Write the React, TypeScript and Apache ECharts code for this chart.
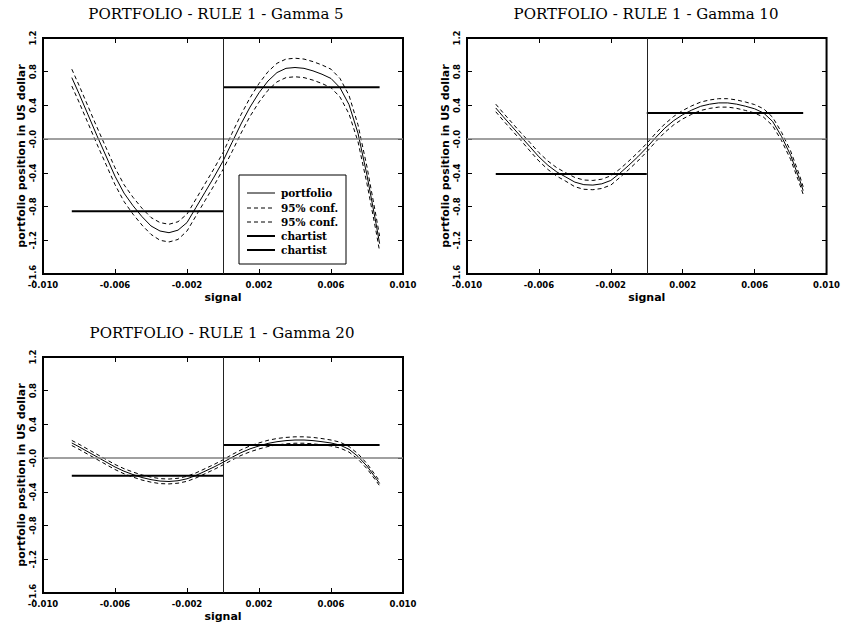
import React, { useEffect, useRef } from 'react';
import * as echarts from 'echarts';

// signal values (x) at which the estimated portfolio curves are read
const signal = [
  -0.0084, -0.008, -0.0075, -0.007, -0.0065, -0.006, -0.0055, -0.005, -0.0045, -0.004,
  -0.0035, -0.003, -0.0025, -0.002, -0.0015, -0.001, -0.0005, 0, 0.0005, 0.001,
  0.0015, 0.002, 0.0025, 0.003, 0.0035, 0.004, 0.0045, 0.005, 0.0055, 0.006,
  0.0065, 0.007, 0.0075, 0.008, 0.0085, 0.0087,
];

// Gamma 5
const portfolioG5 = [
  0.73, 0.54, 0.29, 0.04, -0.2, -0.44, -0.64, -0.79, -0.92, -1.03,
  -1.09, -1.11, -1.08, -0.99, -0.81, -0.63, -0.45, -0.26, -0.04, 0.18,
  0.38, 0.55, 0.69, 0.79, 0.84, 0.85, 0.84, 0.81, 0.77, 0.72,
  0.61, 0.41, 0.07, -0.43, -1.0, -1.24,
];
const upperG5 = [
  0.83, 0.64, 0.39, 0.14, -0.1, -0.34, -0.54, -0.69, -0.82, -0.93,
  -0.99, -1.01, -0.98, -0.89, -0.71, -0.53, -0.35, -0.16, 0.07, 0.29,
  0.49, 0.66, 0.8, 0.9, 0.95, 0.96, 0.95, 0.92, 0.88, 0.83,
  0.72, 0.52, 0.17, -0.33, -0.91, -1.15,
];
const lowerG5 = [
  0.63, 0.44, 0.19, -0.06, -0.3, -0.54, -0.74, -0.89, -1.02, -1.13,
  -1.2, -1.22, -1.19, -1.09, -0.91, -0.73, -0.55, -0.36, -0.15, 0.07,
  0.27, 0.44, 0.58, 0.68, 0.73, 0.74, 0.73, 0.7, 0.66, 0.61,
  0.5, 0.3, -0.03, -0.53, -1.09, -1.33,
];

// Gamma 10
const portfolioG10 = [
  0.37, 0.27, 0.15, 0.03, -0.09, -0.21, -0.31, -0.39, -0.45, -0.51,
  -0.54, -0.545, -0.53, -0.49, -0.405, -0.31, -0.21, -0.1, 0.02, 0.13,
  0.22, 0.29, 0.345, 0.39, 0.415, 0.43, 0.43, 0.415, 0.39, 0.36,
  0.31, 0.21, 0.03, -0.19, -0.48, -0.61,
];
const upperG10 = [
  0.415, 0.315, 0.195, 0.075, -0.04, -0.16, -0.26, -0.34, -0.4, -0.455,
  -0.485, -0.49, -0.475, -0.435, -0.355, -0.26, -0.16, -0.05, 0.07, 0.18,
  0.27, 0.34, 0.395, 0.44, 0.465, 0.48, 0.48, 0.465, 0.44, 0.41,
  0.36, 0.26, 0.08, -0.14, -0.43, -0.565,
];
const lowerG10 = [
  0.325, 0.225, 0.105, -0.015, -0.14, -0.26, -0.36, -0.44, -0.5, -0.565,
  -0.595, -0.6, -0.585, -0.545, -0.455, -0.36, -0.26, -0.15, -0.03, 0.08,
  0.17, 0.24, 0.295, 0.34, 0.365, 0.38, 0.38, 0.365, 0.34, 0.31,
  0.26, 0.16, -0.02, -0.24, -0.53, -0.655,
];

// Gamma 20
const portfolioG20 = [
  0.18, 0.135, 0.075, 0.015, -0.045, -0.105, -0.155, -0.195, -0.23, -0.255,
  -0.272, -0.277, -0.268, -0.245, -0.205, -0.155, -0.105, -0.05, 0.01, 0.065,
  0.11, 0.145, 0.175, 0.195, 0.208, 0.215, 0.215, 0.208, 0.195, 0.18,
  0.155, 0.105, 0.02, -0.095, -0.24, -0.3,
];
const upperG20 = [
  0.21, 0.165, 0.105, 0.045, -0.015, -0.075, -0.125, -0.165, -0.2, -0.225,
  -0.243, -0.248, -0.239, -0.215, -0.175, -0.125, -0.075, -0.02, 0.042, 0.098,
  0.145, 0.181, 0.212, 0.233, 0.246, 0.253, 0.253, 0.246, 0.232, 0.215,
  0.19, 0.138, 0.052, -0.065, -0.212, -0.272,
];
const lowerG20 = [
  0.15, 0.105, 0.045, -0.015, -0.075, -0.135, -0.185, -0.225, -0.26, -0.285,
  -0.302, -0.306, -0.297, -0.275, -0.235, -0.185, -0.135, -0.08, -0.022, 0.032,
  0.075, 0.109, 0.138, 0.157, 0.17, 0.177, 0.177, 0.17, 0.158, 0.145,
  0.12, 0.072, -0.012, -0.125, -0.268, -0.328,
];

// chartist positions: [negative-signal segment, positive-signal segment]
const chartistLeftX = [-0.0084, 0];
const chartistRightX = [0, 0.0087];
const chartistG5 = [-0.855, 0.617];
const chartistG10 = [-0.415, 0.31];
const chartistG20 = [-0.21, 0.155];

const titles = [
  'PORTFOLIO - RULE 1 - Gamma 5',
  'PORTFOLIO - RULE 1 - Gamma 10',
  'PORTFOLIO - RULE 1 - Gamma 20',
];
const legendNames = ['portfolio', '95% conf.', '95% conf.', 'chartist', 'chartist'];
const xAxisName = 'signal';
const yAxisName = 'portfolio position in US dollar';

const panels = [
  { p: portfolioG5, up: upperG5, lo: lowerG5, c: chartistG5 },
  { p: portfolioG10, up: upperG10, lo: lowerG10, c: chartistG10 },
  { p: portfolioG20, up: upperG20, lo: lowerG20, c: chartistG20 },
];

const GW = 360;
const GH = 236;
const TICK = 5;
const gridBoxes = [
  { left: 43, top: 38, width: GW, height: GH },
  { left: 467, top: 38, width: GW, height: GH },
  { left: 43, top: 357, width: GW, height: GH },
];
const titlePos = [
  { x: 216, y: 6 },
  { x: 646, y: 6 },
  { x: 222, y: 325 },
];

const AXIS_FONT = 'DejaVu Sans';

function pairs(xs: number[], ys: number[]) {
  return xs.map((x, i) => [x, ys[i]]);
}

function buildOption() {
  const xAxis: any[] = [];
  const yAxis: any[] = [];
  const series: any[] = [];
  gridBoxes.forEach((_, i) => {
    const common = {
      gridIndex: i,
      type: 'value',
      axisLine: { show: false, onZero: false },
      axisTick: { show: false },
    };
    xAxis.push({
      ...common,
      position: 'bottom',
      min: -0.01,
      max: 0.01,
      interval: 0.004,
      // inward tick marks at top and bottom edges, drawn as dashed split lines
      splitLine: { show: true, lineStyle: { color: '#000', width: 1, type: [TICK, GH - 2 * TICK] } },
      name: xAxisName,
      nameLocation: 'middle',
      nameGap: 18,
      nameTextStyle: { fontFamily: AXIS_FONT, fontWeight: 'bold', fontSize: 11, color: '#000' },
      axisLabel: {
        margin: 6,
        fontFamily: AXIS_FONT,
        fontWeight: 'bold',
        fontSize: 8.5,
        color: '#000',
        formatter: (v: number) => v.toFixed(3),
      },
    });
    yAxis.push({
      ...common,
      position: 'left',
      min: -1.6,
      max: 1.2,
      interval: 0.4,
      splitLine: { show: true, lineStyle: { color: '#000', width: 1, type: [TICK, GW - 2 * TICK] } },
      name: yAxisName,
      nameLocation: 'middle',
      nameGap: 15,
      nameTextStyle: { fontFamily: AXIS_FONT, fontWeight: 'bold', fontSize: 11, color: '#000' },
      axisLabel: {
        margin: 6,
        rotate: 90,
        fontFamily: AXIS_FONT,
        fontWeight: 'bold',
        fontSize: 8.5,
        color: '#000',
        formatter: (v: number) => (Math.abs(v) < 1e-9 ? '-0.0' : v.toFixed(1)),
      },
    });

    const pn = panels[i];
    const ax = { xAxisIndex: i, yAxisIndex: i };
    const base = { type: 'line', symbol: 'none', silent: true, ...ax };
    series.push({
      ...base,
      name: 'zero',
      data: [],
      markLine: {
        silent: true,
        symbol: ['none', 'none'],
        label: { show: false },
        data: [
          { yAxis: 0, lineStyle: { color: '#808080', width: 1.5, type: 'solid' } },
          { xAxis: 0, lineStyle: { color: '#222', width: 1, type: 'solid' } },
        ],
      },
    });
    series.push({
      ...base,
      name: legendNames[1],
      data: pairs(signal, pn.up),
      lineStyle: { color: '#000', width: 1, type: [4, 3] },
    });
    series.push({
      ...base,
      name: legendNames[2],
      data: pairs(signal, pn.lo),
      lineStyle: { color: '#000', width: 1, type: [4, 3] },
    });
    series.push({
      ...base,
      name: legendNames[0],
      data: pairs(signal, pn.p),
      lineStyle: { color: '#000', width: 1 },
    });
    series.push({
      ...base,
      name: legendNames[3],
      data: chartistLeftX.map((x) => [x, pn.c[0]]),
      lineStyle: { color: '#000', width: 2, cap: 'butt' },
    });
    series.push({
      ...base,
      name: legendNames[4],
      data: chartistRightX.map((x) => [x, pn.c[1]]),
      lineStyle: { color: '#000', width: 2, cap: 'butt' },
    });
  });

  // legend box inside the first panel
  const lg = { x: 239, y: 175, w: 107, h: 89 };
  const rowY = [193, 208, 222, 236, 250];
  const legendStyles = [
    { lineWidth: 1, lineDash: null as any },
    { lineWidth: 1, lineDash: [4, 3] },
    { lineWidth: 1, lineDash: [4, 3] },
    { lineWidth: 2, lineDash: null as any },
    { lineWidth: 2, lineDash: null as any },
  ];
  const graphic: any[] = [
    {
      type: 'rect',
      z: 100,
      shape: { x: lg.x, y: lg.y, width: lg.w, height: lg.h },
      style: { fill: '#fff', stroke: '#000', lineWidth: 1 },
    },
  ];
  legendNames.forEach((nm, k) => {
    graphic.push({
      type: 'line',
      z: 101,
      shape: { x1: 247, y1: rowY[k], x2: 275, y2: rowY[k] },
      style: { stroke: '#000', lineWidth: legendStyles[k].lineWidth, lineDash: legendStyles[k].lineDash },
    });
    graphic.push({
      type: 'text',
      z: 101,
      x: 281,
      y: rowY[k],
      style: {
        text: nm,
        fill: '#000',
        font: 'bold 10.5px "DejaVu Serif"',
        textVerticalAlign: 'middle',
        verticalAlign: 'middle',
      },
    });
  });

  return {
    animation: false,
    backgroundColor: '#fff',
    title: titles.map((t, i) => ({
      text: t,
      left: titlePos[i].x,
      top: titlePos[i].y,
      textAlign: 'center',
      padding: 0,
      textStyle: { fontFamily: 'DejaVu Serif', fontWeight: 'normal', fontSize: 15, color: '#000' },
    })),
    grid: gridBoxes.map((g) => ({
      ...g,
      show: true,
      borderColor: '#000',
      borderWidth: 2,
      backgroundColor: 'transparent',
      containLabel: false,
    })),
    xAxis,
    yAxis,
    series,
    graphic,
  };
}

export default function App() {
  const ref = useRef<HTMLDivElement>(null);
  useEffect(() => {
    if (!ref.current) return;
    const chart = echarts.init(ref.current, undefined, { renderer: 'svg' });
    chart.setOption(buildOption() as any);
    return () => chart.dispose();
  }, []);
  return (
    <div
      ref={ref}
      style={{ position: 'absolute', left: 0, top: 0, width: 843, height: 631, background: '#fff' }}
    />
  );
}
